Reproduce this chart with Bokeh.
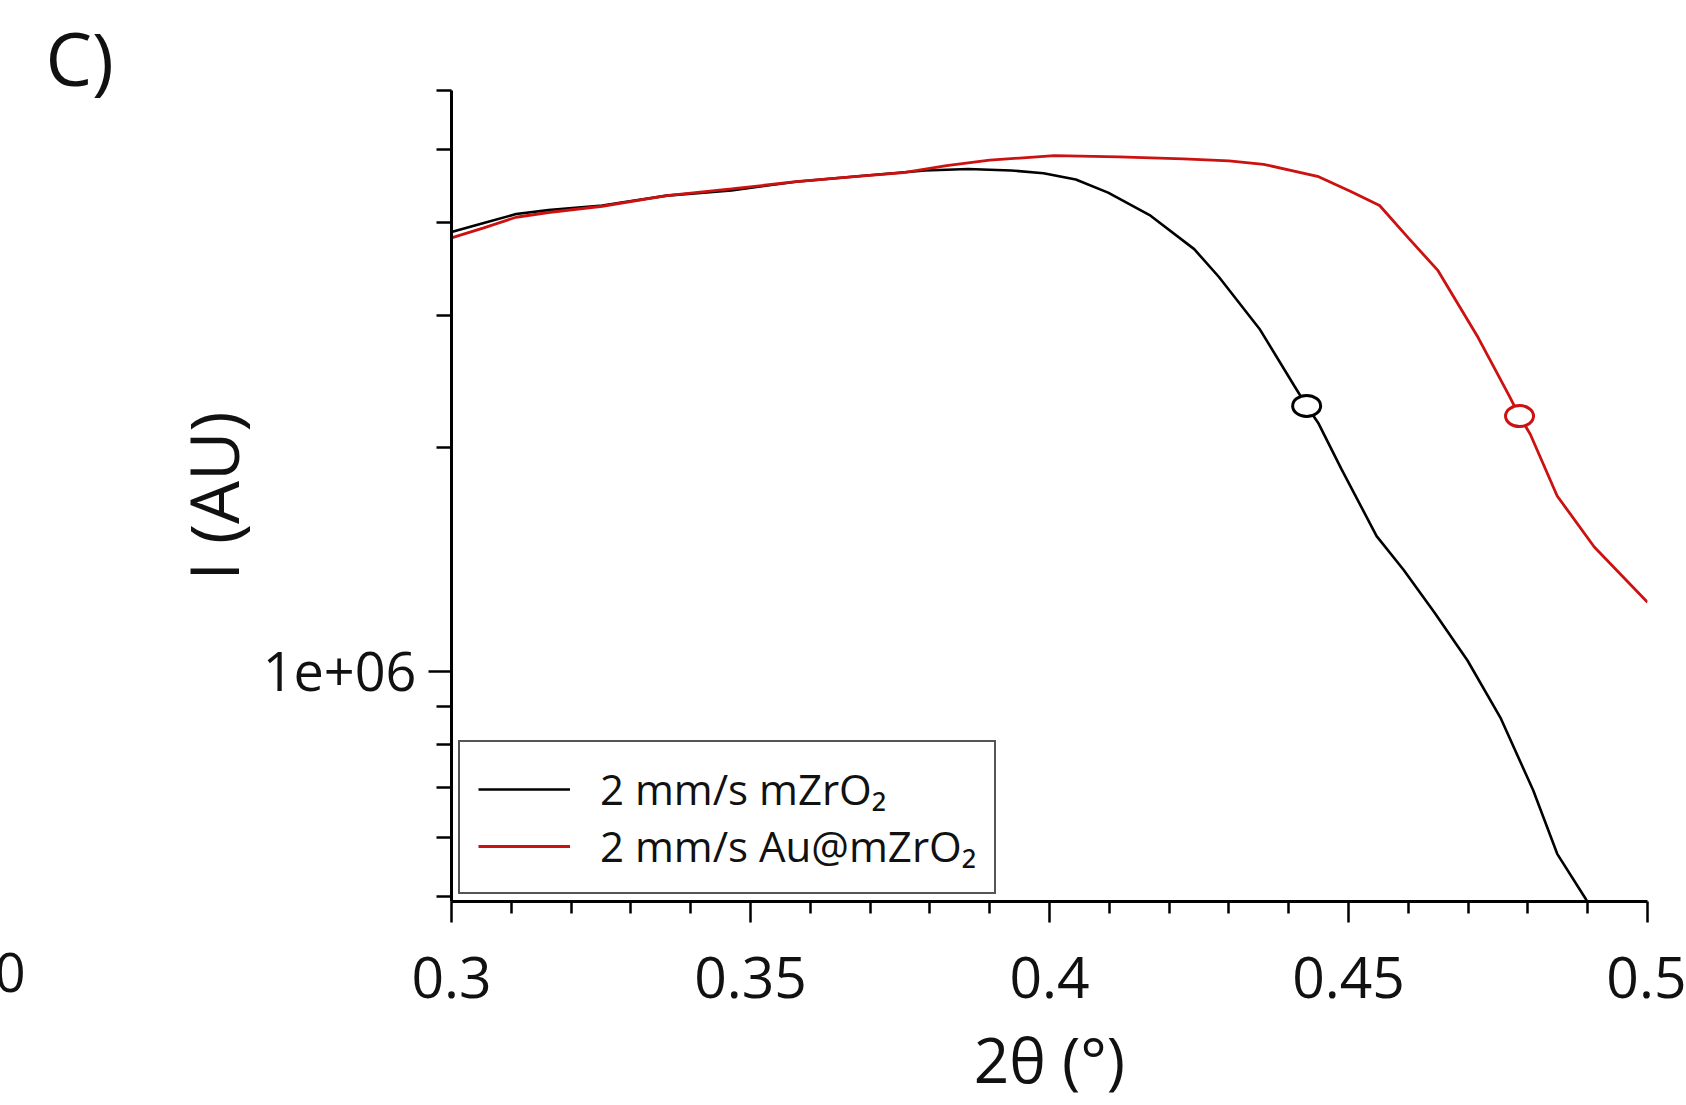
from bokeh.plotting import figure
from bokeh.models import Range1d, FixedTicker, Legend, LegendItem, Title, Label
from bokeh.embed import file_html
from bokeh.resources import INLINE

# ---- data ----
two_theta_black = [0.3000, 0.3054, 0.3108, 0.3162, 0.3252, 0.3360, 0.3468, 0.3576, 0.3684,
                   0.3792, 0.3864, 0.3936, 0.3990, 0.4044, 0.4098, 0.4169, 0.4242, 0.4283,
                   0.4351, 0.4410, 0.4430, 0.4450, 0.4488, 0.4547, 0.4592, 0.4644, 0.4699,
                   0.4754, 0.4809, 0.4849, 0.4896, 0.4920]
intensity_black = [3.88e6, 3.99e6, 4.10e6, 4.15e6, 4.21e6, 4.34e6, 4.41e6, 4.53e6, 4.61e6,
                   4.69e6, 4.71e6, 4.69e6, 4.65e6, 4.56e6, 4.38e6, 4.08e6, 3.68e6, 3.38e6,
                   2.88e6, 2.41e6, 2.27e6, 2.15e6, 1.87e6, 1.52e6, 1.37e6, 1.20e6, 1.036e6,
                   0.869e6, 0.694e6, 0.571e6, 0.498e6, 0.46e6]

two_theta_red = [0.3000, 0.3054, 0.3108, 0.3162, 0.3252, 0.3360, 0.3468, 0.3576, 0.3684,
                 0.3756, 0.3828, 0.3900, 0.4008, 0.4116, 0.4224, 0.4300, 0.4358, 0.4450,
                 0.4503, 0.4552, 0.4600, 0.4649, 0.4717, 0.4769, 0.4786, 0.4804, 0.4849,
                 0.4911, 0.5000]
intensity_red = [3.81e6, 3.93e6, 4.06e6, 4.12e6, 4.20e6, 4.34e6, 4.43e6, 4.53e6, 4.61e6,
                 4.66e6, 4.76e6, 4.84e6, 4.91e6, 4.89e6, 4.86e6, 4.83e6, 4.78e6, 4.60e6,
                 4.40e6, 4.21e6, 3.81e6, 3.45e6, 2.80e6, 2.34e6, 2.20e6, 2.08e6, 1.72e6,
                 1.47e6, 1.24e6]

marker_x = [0.4430, 0.4786]
marker_y = [2.27e6, 2.20e6]
marker_colors = ["black", "#cc1111"]

x_ticks = [0.3, 0.35, 0.4, 0.45, 0.5]
x_tick_labels = ["0.3", "0.35", "0.4", "0.45", "0.5"]
x_minor_ticks = [0.31, 0.32, 0.33, 0.34, 0.36, 0.37, 0.38, 0.39, 0.41, 0.42, 0.43, 0.44,
                 0.46, 0.47, 0.48, 0.49]
y_major_ticks = [1e6]
y_minor_ticks = [5e5, 6e5, 7e5, 8e5, 9e5, 2e6, 3e6, 4e6, 5e6, 6e6]

series_labels = ["2 mm/s mZrO\u2082", "2 mm/s Au@mZrO\u2082"]
panel_letter = "C)"
neighbour_tick = "0"
neighbour_tick_pos = (0.2236, 0.396e6)   # where the cut-off neighbour label sits

FONT = "Open Sans"

p = figure(width=1686, height=1105, output_backend="svg", toolbar_location=None,
           x_range=Range1d(0.3, 0.5), y_range=Range1d(0.493e6, 6.0e6),
           y_axis_type="log",
           min_border_left=451, min_border_right=39, min_border_top=90, min_border_bottom=204)
p.outline_line_color = None
p.xgrid.visible = False
p.ygrid.visible = False
p.background_fill_color = "white"
p.border_fill_color = "white"

rb = p.line(two_theta_black, intensity_black, line_color="black", line_width=2.6)
rr = p.line(two_theta_red, intensity_red, line_color="#cc1111", line_width=2.8)
p.ellipse(x=marker_x, y=marker_y, width=28, height=21, width_units="screen",
          height_units="screen", fill_color="white", line_color=marker_colors, line_width=3)

# x axis
xa = p.xaxis[0]
xa.ticker = FixedTicker(ticks=x_ticks, minor_ticks=x_minor_ticks)
xa.major_label_overrides = {t: l for t, l in zip(x_ticks, x_tick_labels)}
xa.axis_label = "2\u03b8 (\u00b0)"
# y axis
ya = p.yaxis[0]
ya.ticker = FixedTicker(ticks=y_major_ticks, minor_ticks=y_minor_ticks)
ya.major_label_overrides = {1e6: "1e+06"}
ya.axis_label = "I (AU)"

for ax in (xa, ya):
    ax.axis_line_width = 3
    ax.axis_line_color = "black"
    ax.major_tick_line_width = 2.5
    ax.minor_tick_line_width = 2.5
    ax.major_tick_line_color = "black"
    ax.minor_tick_line_color = "black"
    ax.major_tick_in = 0
    ax.minor_tick_in = 0
    ax.major_label_text_font = FONT
    ax.major_label_text_color = "#111111"
    ax.axis_label_text_font = FONT
    ax.axis_label_text_font_style = "normal"
    ax.axis_label_text_color = "#111111"

xa.major_label_text_font_size = "57px"
ya.major_label_text_font_size = "54px"
xa.axis_label_text_font_size = "62px"
ya.axis_label_text_font_size = "68px"
xa.major_tick_out = 21
xa.minor_tick_out = 12
xa.major_label_standoff = 34
xa.axis_label_standoff = 16
ya.major_tick_out = 23
ya.minor_tick_out = 15
ya.major_label_standoff = 12
ya.axis_label_standoff = 1

legend = Legend(items=[LegendItem(label=series_labels[0], renderers=[rb]),
                       LegendItem(label=series_labels[1], renderers=[rr])],
                location=(7, 7))
legend.label_text_font = FONT
legend.label_text_font_size = "42px"
legend.label_text_color = "#111111"
legend.glyph_width = 92
legend.glyph_height = 50
legend.label_height = 50
legend.label_standoff = 30
legend.padding = 18
legend.spacing = 0
legend.margin = 0
legend.border_line_color = "#555555"
legend.border_line_alpha = 1.0
legend.border_line_width = 2
legend.background_fill_color = "white"
legend.background_fill_alpha = 1.0
p.add_layout(legend, "center")

# panel letter as a title above the frame
p.add_layout(Title(text=panel_letter, align="left", offset=-406, standoff=-34,
                   text_font=FONT, text_font_size="74px", text_font_style="normal",
                   text_color="#111111", vertical_align="bottom"), "above")

# fragment of the neighbouring panel's tick label (left side panel, not frame-clipped)
p.add_layout(Label(x=neighbour_tick_pos[0], y=neighbour_tick_pos[1], text=neighbour_tick,
                   text_font=FONT, text_font_size="54px", text_color="#111111",
                   text_baseline="middle", text_align="left"), "left")

open("out.html", "w").write(file_html(p, INLINE))
